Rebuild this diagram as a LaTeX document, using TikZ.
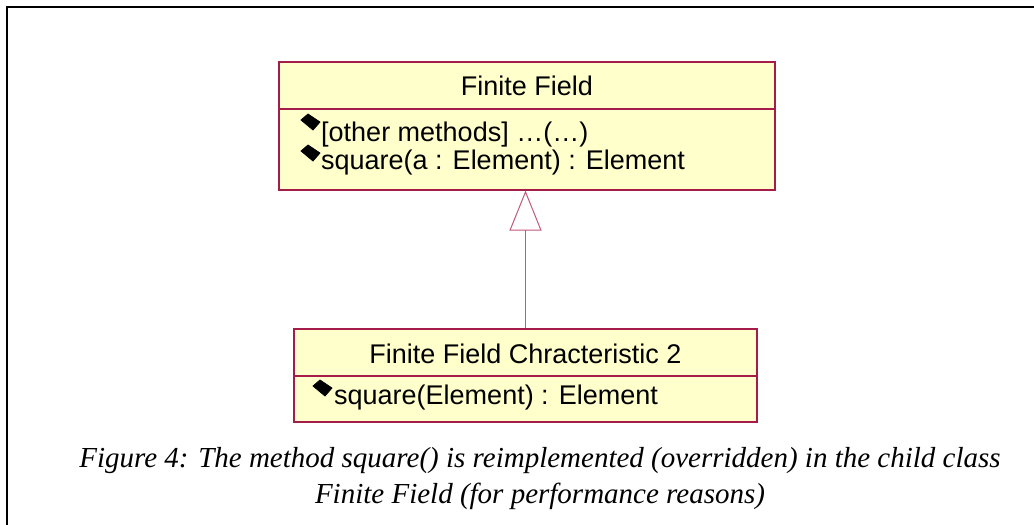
\documentclass[tikz,border=0pt]{standalone}
\usepackage{fontspec}
\setmainfont{Liberation Serif}
\newfontfamily\umlfont{Liberation Sans}
\usetikzlibrary{arrows.meta}
\definecolor{umlborder}{RGB}{165,28,75}
\definecolor{umlline}{RGB}{190,90,125}
\definecolor{umlfill}{RGB}{255,255,204}
\tikzset{
  classbox/.style={draw=umlborder, fill=umlfill, line width=1.1pt, inner sep=0pt},
  umltext/.style={font=\umlfont\fontsize{27}{32}\selectfont, inner sep=0pt},
  captiontext/.style={font=\itshape\fontsize{29}{34}\selectfont, inner sep=0pt},
  inherit/.style={draw=umlline, line width=1.2pt,
    -{Triangle[open, length=40pt, width=32pt, line width=1pt, fill=white]}},
  opglyph/.style={fill=black, draw=black, line width=0.8pt, line join=round},
}
\newcommand{\opicon}[2]{%
  \path[opglyph] (#1+0,#2+6) -- (#1+7,#2+0) -- (#1+19,#2+8) -- (#1+12,#2+16) -- cycle;}
\begin{document}
\begin{tikzpicture}[x=1pt,y=-1pt]
\useasboundingbox (0,0) rectangle (1034,525);
\begin{scope}
\clip (0,0) rectangle (1034,525);
\draw[line width=2pt, black] (7,7) rectangle (1200,700);
\end{scope}
% class boxes
\node[classbox, minimum width=496pt, minimum height=128pt] (ff) at (527,126) {};
\node[classbox, minimum width=463pt, minimum height=93pt] (ff2) at (525.5,375.5) {};
\draw[umlborder, line width=1.1pt] (ff.west |- 0,109) -- (ff.east |- 0,109);
\draw[umlborder, line width=1.1pt] (ff2.west |- 0,376) -- (ff2.east |- 0,376);
% texts
\node[umltext, anchor=base] (fft) at (527,95) {Finite Field};
\node[umltext, anchor=base west] (ffm1) at (321,141) {[other methods] \dots(\dots)};
\node[umltext, anchor=base west] (ffm2) at (321,169) {square(a : Element) : Element};
\node[umltext, anchor=base] (ff2t) at (525.5,363) {Finite Field Chracteristic 2};
\node[umltext, anchor=base west] (ff2m) at (334,404) {square(Element) : Element};
\opicon{301}{114}
\opicon{301}{145}
\opicon{313}{380}
% inheritance
\draw[inherit] (ff2.north) -- (ff2.north |- ff.south);
% caption
\node[captiontext, anchor=base] (cap1) at (540,467) {Figure 4: The method square() is reimplemented (overridden) in the child class};
\node[captiontext, anchor=base] (cap2) at (540,503) {Finite Field (for performance reasons)};
\end{tikzpicture}
\end{document}
